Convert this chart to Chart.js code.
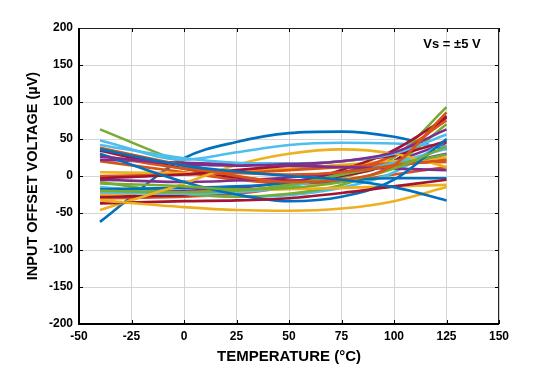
<!DOCTYPE html>
<html>
<head>
<meta charset="utf-8">
<script src="https://cdn.jsdelivr.net/npm/chart.js@4/dist/chart.umd.min.js"></script>
<style>
  html, body { margin: 0; padding: 0; background: #fff; }
  #wrap { width: 539px; height: 378px; }
</style>
</head>
<body>
<div id="wrap"><canvas id="c" width="539" height="378"></canvas></div>
<script>
// ---- data ----
const temperatures = [-40, 0, 25, 50, 75, 100, 125];
const xTicks = [-50, -25, 0, 25, 50, 75, 100, 125, 150];
const yTicks = [-200, -150, -100, -50, 0, 50, 100, 150, 200];
const curveColors = [
  '#0072BD', '#D95319', '#EDB120', '#7E2F8E', '#77AC30', '#4DBEEE', '#A2142F',
  '#0072BD', '#D95319', '#EDB120', '#7E2F8E', '#77AC30', '#4DBEEE', '#A2142F',
  '#0072BD', '#D95319', '#EDB120', '#7E2F8E', '#77AC30', '#4DBEEE', '#A2142F',
  '#D95319', '#EDB120', '#7E2F8E', '#A2142F', '#D95319', '#4DBEEE', '#77AC30',
  '#0072BD'
];
const curveValues = [
  [36, 14, 6, 0, -5, -15, -33],
  [38, 14, 0, -8, -5, 15, 86],
  [-33, -42, -46, -47, -44, -34, -15],
  [26, 16, 14, 16, 20, 32, 63],
  [-10, -14, -18, -16, -8, 10, 40],
  [42, 24, 18, 17, 20, 30, 56],
  [-37, -34, -33, -30, -23, -14, -5],
  [30, -8, -25, -34, -28, -5, 50],
  [28, 10, 4, 2, 5, 14, 22],
  [-46, -10, 15, 30, 36, 30, 12],
  [22, 18, 16, 14, 12, 10, 8],
  [-20, -22, -20, -12, 2, 15, 29],
  [-22, -24, -22, -14, 2, 18, 37],
  [-3, 2, 8, 14, 20, 28, 47],
  [-18, -16, -14, -10, -6, -3, -3],
  [0, 2, 4, 8, 12, 17, 19],
  [-25, -22, -20, -18, -16, -14, -12],
  [-5, -8, -6, -2, 5, 15, 30],
  [-8, -24, -28, -24, -12, 15, 70],
  [-15, -24, -28, -26, -16, 5, 48],
  [-28, -26, -22, -12, 8, 35, 79],
  [-30, -28, -24, -14, 4, 28, 75],
  [5, 4, 6, 10, 15, 20, 25],
  [-25, -20, -16, -8, 4, 20, 45],
  [34, 10, -2, -6, 0, 20, 81],
  [20, 5, -5, -10, -8, 2, 12],
  [48, 22, 32, 42, 45, 44, 40],
  [63, 18, 0, -8, -2, 25, 93],
  [-62, 24, 46, 58, 60, 53, 36]
];
const xTitle = 'TEMPERATURE (°C)';
const yTitle = 'INPUT OFFSET VOLTAGE (µV)';
const annotation = 'Vs = ±5 V';

// ---- chart ----
const FONT = '"Liberation Sans", Arial, sans-serif';

const datasets = curveValues.map((vals, i) => ({
  data: temperatures.map((t, j) => ({ x: t, y: vals[j] })),
  borderColor: curveColors[i],
  borderWidth: 2.6,
  pointRadius: 0,
  fill: false,
  cubicInterpolationMode: 'monotone'
}));

const framePlugin = {
  id: 'frame',
  afterDatasetsDraw(chart) {
    const { ctx, chartArea: a, scales } = chart;
    ctx.save();
    // inward ticks
    ctx.strokeStyle = '#000';
    ctx.lineWidth = 1;
    const tl = 4;
    ctx.beginPath();
    xTicks.forEach(v => {
      const px = Math.round(scales.x.getPixelForValue(v)) + 0.5;
      ctx.moveTo(px, a.bottom); ctx.lineTo(px, a.bottom - tl);
      ctx.moveTo(px, a.top); ctx.lineTo(px, a.top + tl);
    });
    yTicks.forEach(v => {
      const py = Math.round(scales.y.getPixelForValue(v)) + 0.5;
      ctx.moveTo(a.left, py); ctx.lineTo(a.left + tl, py);
      ctx.moveTo(a.right, py); ctx.lineTo(a.right - tl, py);
    });
    ctx.stroke();
    // frame
    ctx.lineWidth = 1;
    ctx.strokeStyle = '#222';
    ctx.beginPath();
    ctx.moveTo(a.left, a.top + 0.5); ctx.lineTo(a.right, a.top + 0.5);
    ctx.moveTo(a.right - 0.5, a.top); ctx.lineTo(a.right - 0.5, a.bottom);
    ctx.stroke();
    ctx.lineWidth = 2;
    ctx.strokeStyle = '#000';
    ctx.beginPath();
    ctx.moveTo(a.left, a.top); ctx.lineTo(a.left, a.bottom);
    ctx.lineTo(a.right, a.bottom);
    ctx.stroke();
    // annotation
    ctx.fillStyle = '#000';
    ctx.font = 'bold 13px ' + FONT;
    ctx.textAlign = 'center';
    ctx.textBaseline = 'middle';
    ctx.fillText(annotation, 452, 44);
    ctx.restore();
  }
};

new Chart(document.getElementById('c'), {
  type: 'line',
  data: { datasets },
  options: {
    responsive: false,
    animation: false,
    events: [],
    layout: { padding: { top: 28, right: 40, left: 0, bottom: 0 } },
    plugins: { legend: { display: false }, tooltip: { enabled: false } },
    scales: {
      x: {
        type: 'linear',
        min: -50, max: 150,
        afterBuildTicks(scale) { scale.ticks = xTicks.map(v => ({ value: v })); },
        afterFit(scale) { scale.height = 54; },
        ticks: {
          color: '#000', padding: 5,
          font: { family: FONT, size: 12, weight: 'bold' },
          maxRotation: 0, autoSkip: false
        },
        grid: { color: '#d4d4d4', lineWidth: 1, drawTicks: false },
        border: { display: false },
        title: {
          display: true, text: xTitle, color: '#000',
          font: { family: FONT, size: 15, weight: 'bold' },
          padding: { top: 4, bottom: 12 }
        }
      },
      y: {
        type: 'linear',
        min: -200, max: 200,
        afterBuildTicks(scale) { scale.ticks = yTicks.map(v => ({ value: v })); },
        afterFit(scale) { scale.width = 79; },
        ticks: {
          color: '#000', padding: 6,
          font: { family: FONT, size: 12, weight: 'bold' }
        },
        grid: { color: '#d4d4d4', lineWidth: 1, drawTicks: false },
        border: { display: false },
        title: {
          display: true, text: yTitle, color: '#000',
          font: { family: FONT, size: 14.5, weight: 'bold' },
          padding: { top: 24, bottom: 0 }
        }
      }
    }
  },
  plugins: [framePlugin]
});
</script>
</body>
</html>
